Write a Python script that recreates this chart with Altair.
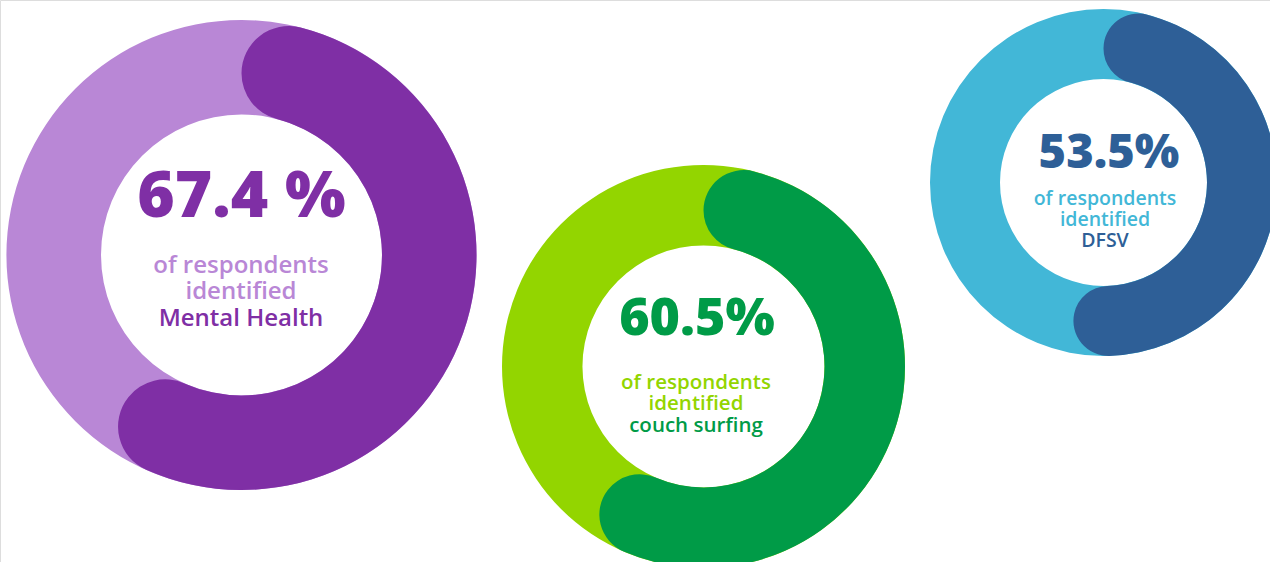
import math
import altair as alt
import pandas as pd

# ---- data ----
topics = ["Mental Health", "couch surfing", "DFSV"]
shares = [67.4, 60.5, 53.5]               # printed percentages
arc_shares = [60.7, 60.5, 53.5]           # extent of the dark arc as drawn
labels = ["67.4 %", "60.5%", "53.5%"]
line1 = "of respondents"
line2 = "identified"

# ---- styling / layout ----
dark_colors = ["#7F2FA5", "#009B47", "#2E5F97"]
light_colors = ["#B987D6", "#93D500", "#42B7D7"]
ring_center_x = [241.5, 703.5, 1103.5]
layout = [
    dict(cy=255, r_out=235, r_in=140.5, num_x=241.5, num_size=64, num_y=217,
         sub_x=241, sub_size=24, sub_y=[273, 299, 326]),
    dict(cy=366.5, r_out=201.5, r_in=121, num_x=697, num_size=52, num_y=335,
         sub_x=696, sub_size=20.5, sub_y=[389, 410, 432]),
    dict(cy=182.5, r_out=173.5, r_in=103.5, num_x=1109, num_size=47, num_y=168,
         sub_x=1105, sub_size=19.5, sub_y=[205, 226, 247]),
]

NUM_FONT = "Open Sans"
SUB_FONT = "Open Sans"
theta_scale = alt.Scale(domain=[0, 100], range=[0, 2 * math.pi])

layers = []
for i, topic in enumerate(topics):
    L = layout[i]
    cx = ring_center_x[i]
    ring = pd.DataFrame({"start": [0.0], "end": [100.0]})
    arc = pd.DataFrame({"start": [0.0], "end": [arc_shares[i]], "share": [shares[i]]})
    thick = L["r_out"] - L["r_in"]

    bg = alt.Chart(ring).mark_arc(
        outerRadius=L["r_out"], innerRadius=L["r_in"], color=light_colors[i]
    ).encode(
        theta=alt.Theta("start:Q", scale=theta_scale),
        theta2="end:Q",
        x=alt.value(cx), y=alt.value(L["cy"]),
    )
    fg = alt.Chart(arc).mark_arc(
        outerRadius=L["r_out"], innerRadius=L["r_in"], color=dark_colors[i],
        cornerRadius=thick / 2
    ).encode(
        theta=alt.Theta("start:Q", scale=theta_scale),
        theta2="end:Q",
        x=alt.value(cx), y=alt.value(L["cy"]),
    )
    num = alt.Chart(pd.DataFrame({"t": [labels[i]]})).mark_text(
        font=NUM_FONT, fontWeight=800, fontSize=L["num_size"], color=dark_colors[i],
        align="center", baseline="alphabetic"
    ).encode(text="t:N", x=alt.value(L["num_x"]), y=alt.value(L["num_y"]))
    layers += [bg, fg, num]
    for j, (txt, col) in enumerate([(line1, light_colors[i]), (line2, light_colors[i]),
                                    (topic, dark_colors[i])]):
        t = alt.Chart(pd.DataFrame({"t": [txt]})).mark_text(
            font=SUB_FONT, fontWeight=600, fontSize=L["sub_size"], color=col,
            align="center", baseline="alphabetic"
        ).encode(text="t:N", x=alt.value(L["sub_x"]), y=alt.value(L["sub_y"][j]))
        layers.append(t)

chart = alt.layer(*layers).properties(
    width=1270, height=562, padding=0, autosize="none"
).configure_view(stroke=None).configure(background="white")

chart.save("out.html", embed_options={"renderer": "svg", "actions": False})
